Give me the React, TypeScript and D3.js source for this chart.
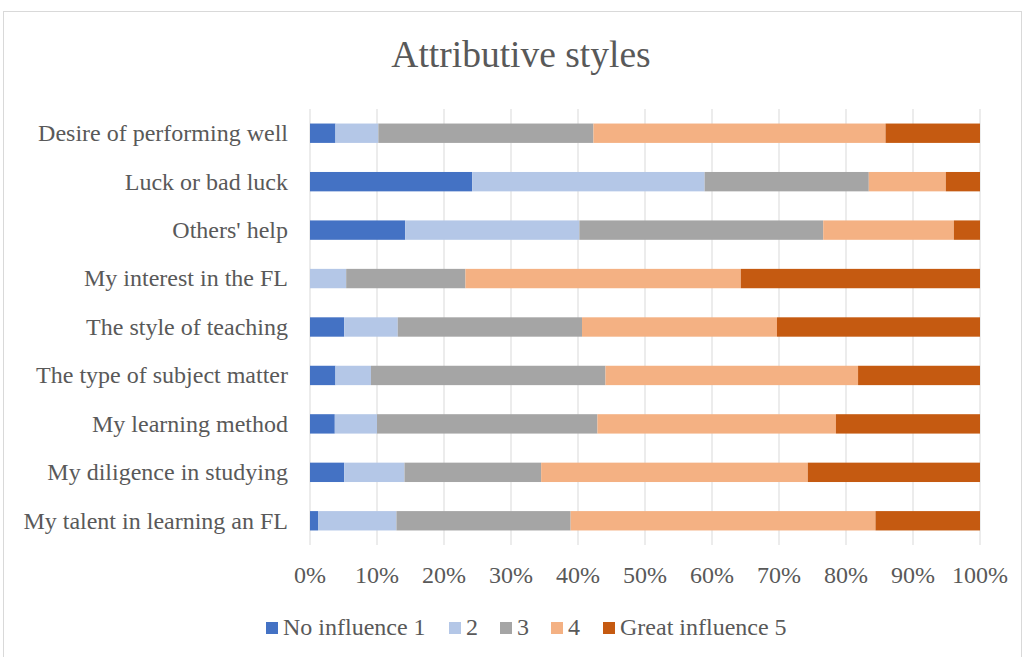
import React from 'react';
import * as d3 from 'd3';

const categories = [
  'Desire of performing well',
  'Luck or bad luck',
  "Others' help",
  'My interest in the FL',
  'The style of teaching',
  'The type of subject matter',
  'My learning method',
  'My diligence in studying',
  'My talent in learning an FL',
];

const seriesNames = ['No influence 1', '2', '3', '4', 'Great influence 5'];
const colors = ['#4472C4', '#B4C7E7', '#A5A5A5', '#F4B183', '#C55A11'];

// percent share per category, in series order
const s1 = [3.8, 24.2, 14.2, 0, 5.1, 3.8, 3.7, 5.1, 1.2];
const s2 = [6.4, 34.7, 26.0, 5.4, 8.0, 5.3, 6.3, 9.0, 11.7];
const s3 = [32.1, 24.5, 36.4, 17.8, 27.5, 35.0, 32.9, 20.4, 26.0];
const s4 = [43.6, 11.5, 19.5, 41.1, 29.1, 37.7, 35.6, 39.8, 45.5];
const s5 = [14.1, 5.1, 3.9, 35.7, 30.3, 18.2, 21.5, 25.7, 15.6];

const tickValues = [0, 0.1, 0.2, 0.3, 0.4, 0.5, 0.6, 0.7, 0.8, 0.9, 1];

const W = 1025;
const H = 657;
const font = '"Liberation Serif", "Times New Roman", serif';
const textColor = '#595959';

export default function App() {
  const rows = categories.map((c, i) => ({
    cat: c,
    v: [s1[i], s2[i], s3[i], s4[i], s5[i]],
  }));
  const table = rows.map((r) => {
    const total = d3.sum(r.v);
    const o: any = { cat: r.cat };
    seriesNames.forEach((k, j) => (o[k] = r.v[j] / total));
    return o;
  });
  const stacked = d3.stack<any>().keys(seriesNames)(table);

  const x = d3.scaleLinear().domain([0, 1]).range([310, 980]);
  const y = d3.scaleBand().domain(categories).range([109, 545]).paddingInner(0.6).paddingOuter(0.3);

  const legendX = [266, 449, 500, 551, 603];

  return (
    <svg width={W} height={H} style={{ position: 'absolute', left: 0, top: 0, background: '#fff' }}>
      <rect x={3.5} y={11.5} width={1018} height={660} fill="#fff" stroke="#D9D9D9" strokeWidth={1} />
      <text x={521} y={67} textAnchor="middle" fontFamily={font} fontSize={37.5} fill={textColor}>
        Attributive styles
      </text>
      {tickValues.map((t) => (
        <g key={t}>
          <line x1={x(t)} x2={x(t)} y1={109} y2={545} stroke="#D9D9D9" strokeWidth={1} />
          <text x={x(t)} y={583} textAnchor="middle" fontFamily={font} fontSize={24} fill={textColor}>
            {d3.format('.0%')(t)}
          </text>
        </g>
      ))}
      {stacked.map((layer, j) => (
        <g key={layer.key} fill={colors[j]}>
          {layer.map((d: any, i) => (
            <rect
              key={i}
              x={x(d[0])}
              y={y(d.data.cat)}
              width={Math.max(0, x(d[1]) - x(d[0]))}
              height={y.bandwidth()}
            />
          ))}
        </g>
      ))}
      {categories.map((c) => (
        <text
          key={c}
          x={288}
          y={(y(c) as number) + y.bandwidth() / 2}
          dy="0.33em"
          textAnchor="end"
          fontFamily={font}
          fontSize={24}
          fill={textColor}
        >
          {c}
        </text>
      ))}
      {seriesNames.map((n, j) => (
        <g key={n}>
          <rect x={legendX[j]} y={622} width={12} height={12} fill={colors[j]} />
          <text x={legendX[j] + 17} y={627} dy="0.33em" fontFamily={font} fontSize={24} fill={textColor}>
            {n}
          </text>
        </g>
      ))}
    </svg>
  );
}
